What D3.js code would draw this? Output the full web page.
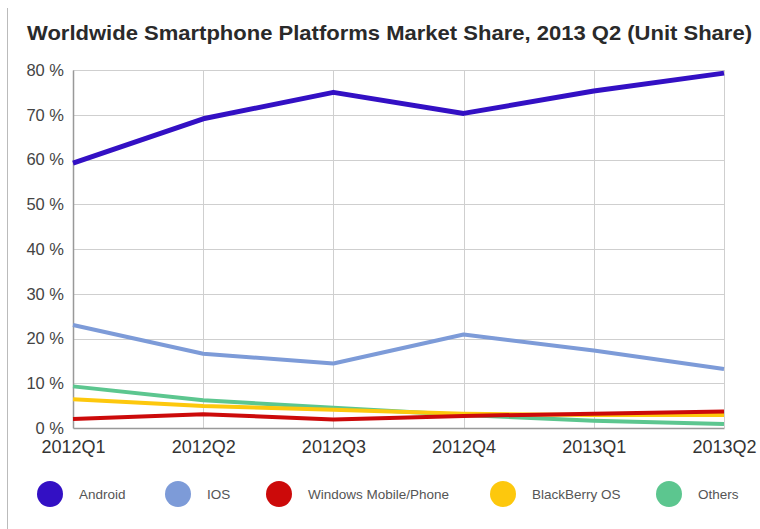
<!DOCTYPE html>
<html>
<head>
<meta charset="utf-8">
<script src="https://cdn.jsdelivr.net/npm/d3@7"></script>
<style>
  body { margin: 0; background: #fff; }
  text { font-family: "Liberation Sans", Arial, sans-serif; }
</style>
</head>
<body>
<div id="chart-container"></div>
<script>
const quarters = ["2012Q1", "2012Q2", "2012Q3", "2012Q4", "2013Q1", "2013Q2"];
const android = [59.2, 69.1, 75.0, 70.3, 75.3, 79.3];
const ios = [23.0, 16.6, 14.4, 20.9, 17.3, 13.2];
const windows = [2.0, 3.1, 1.9, 2.7, 3.2, 3.7];
const blackberry = [6.4, 4.9, 4.1, 3.2, 2.9, 2.9];
const others = [9.3, 6.2, 4.5, 2.9, 1.6, 0.9];
const seriesNames = ["Android", "iOS", "Windows Mobile/Phone", "BlackBerry OS", "Others"];
const seriesColors = ["#3310c4", "#7d9bd8", "#cc0a0a", "#fdc80d", "#5cc68f"];
const yTicks = [0, 10, 20, 30, 40, 50, 60, 70, 80];

const w = 760, h = 529;
const plotLeft = 73, plotRight = 724, plotTop = 70, plotBottom = 428;

const svg = d3.select("#chart-container").append("svg")
  .attr("width", w).attr("height", h);

// left frame line
svg.append("line").attr("x1", 7.5).attr("x2", 7.5).attr("y1", 8).attr("y2", h)
  .attr("stroke", "#bbb");

svg.append("text")
  .attr("x", 27).attr("y", 40)
  .attr("font-size", "20.5px").attr("font-weight", "bold").attr("fill", "#2a2a2a")
  .attr("textLength", 725).attr("lengthAdjust", "spacingAndGlyphs")
  .text("Worldwide Smartphone Platforms Market Share, 2013 Q2 (Unit Share)");

const xScale = d3.scalePoint().domain(quarters).range([plotLeft, plotRight]);
const yScale = d3.scaleLinear().domain([0, 80]).range([plotBottom, plotTop]);

// grid
svg.append("g").selectAll("line").data(yTicks.slice(1)).enter().append("line")
  .attr("x1", plotLeft).attr("x2", plotRight)
  .attr("y1", d => Math.round(yScale(d)) + 0.5).attr("y2", d => Math.round(yScale(d)) + 0.5)
  .attr("stroke", "#cfcfcf");
svg.append("g").selectAll("line").data(quarters.slice(1)).enter().append("line")
  .attr("x1", d => Math.round(xScale(d)) + 0.5).attr("x2", d => Math.round(xScale(d)) + 0.5)
  .attr("y1", plotTop).attr("y2", plotBottom)
  .attr("stroke", "#cfcfcf");

// axes
const yAxis = d3.axisLeft(yScale).tickValues(yTicks).tickSize(0).tickPadding(9)
  .tickFormat(d => d + " %");
const gy = svg.append("g").attr("transform", "translate(" + plotLeft + ",0)").call(yAxis);
gy.select(".domain").attr("stroke", "#999").attr("stroke-width", 1.5);
gy.selectAll(".tick text").attr("font-size", "16.5px").attr("fill", "#444")
  .attr("font-family", "Liberation Sans, Arial, sans-serif");

const xAxis = d3.axisBottom(xScale).tickSize(0).tickPadding(12);
const gx = svg.append("g").attr("transform", "translate(0," + plotBottom + ")").call(xAxis);
gx.select(".domain").attr("stroke", "#999").attr("stroke-width", 1.5);
gx.selectAll(".tick text").attr("font-size", "18px").attr("fill", "#333")
  .attr("font-family", "Liberation Sans, Arial, sans-serif");

// lines
const allSeries = [android, ios, windows, blackberry, others];
const line = d3.line().x((d, i) => xScale(quarters[i])).y(d => yScale(d));
const drawOrder = [0, 1, 4, 3, 2];
drawOrder.forEach(k => {
  svg.append("path").datum(allSeries[k])
    .attr("fill", "none")
    .attr("stroke", seriesColors[k])
    .attr("stroke-width", k === 0 ? 5 : 4)
    .attr("stroke-linejoin", "round")
    .attr("d", line);
});

// legend
const legendX = [50, 178, 279, 503, 669];
const lg = svg.append("g").selectAll("g").data(seriesNames).enter().append("g")
  .attr("transform", (d, i) => "translate(" + legendX[i] + ",494)");
lg.append("circle").attr("r", 13).attr("fill", (d, i) => seriesColors[i]);
lg.append("text").attr("x", 29).attr("y", 5)
  .attr("font-size", "13.5px").attr("fill", "#555")
  .text(d => d === "iOS" ? "IOS" : d);
</script>
</body>
</html>
